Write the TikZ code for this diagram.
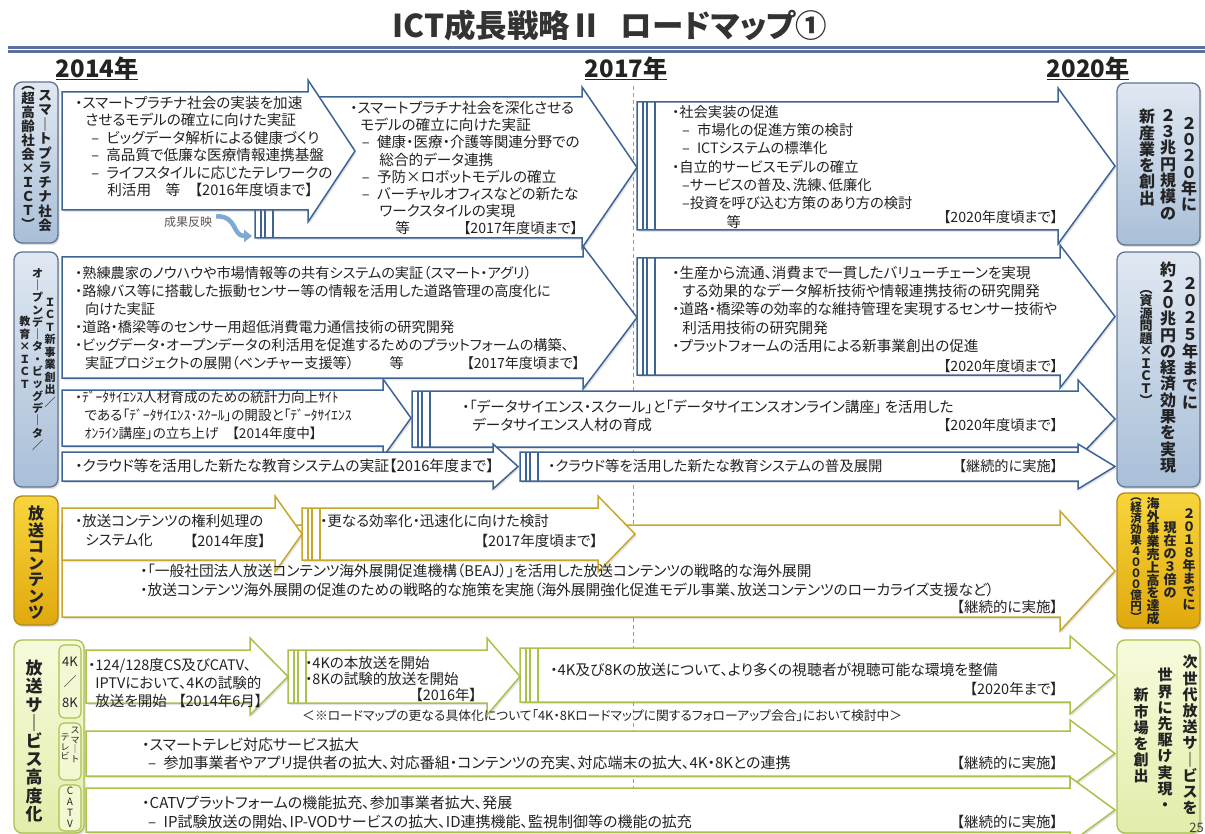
\documentclass[tikz,border=0pt]{standalone}
\usepackage{fontspec}
\setmainfont{Noto Sans CJK JP}[RawFeature=+palt]
\newfontfamily\vfont{Noto Sans CJK JP}
\usetikzlibrary{shadows,arrows.meta}
\definecolor{bl}{HTML}{3C6494}
\definecolor{gd}{HTML}{C9A62C}
\definecolor{gn}{HTML}{A9C24A}
\definecolor{tx}{HTML}{232323}
\definecolor{labbd}{HTML}{5E7596}
\definecolor{labtop}{HTML}{E0E8F2}
\definecolor{labbot}{HTML}{A9BFD8}
\definecolor{goldtop}{HTML}{F8D53C}
\definecolor{goldbot}{HTML}{E0A90E}
\definecolor{goldbd}{HTML}{B08A1A}
\definecolor{greentop}{HTML}{F8FBDC}
\definecolor{greenbot}{HTML}{E2EDAA}
\definecolor{greenbd}{HTML}{A8C050}
\definecolor{subfill}{HTML}{F4F8D2}
\definecolor{fbarrow}{HTML}{7EA9D1}
\definecolor{dashc}{HTML}{9A9A9A}
\definecolor{rulec}{HTML}{5D6F9E}
\newcommand\setfs[2]{\fontsize{#1}{#2}\selectfont}
\newcommand\blkarrow[7]{\filldraw[#1] (#2,#5) -- (#3,#5) -- (#3,{#5-#7}) -- (#4,{(#5+#6)/2}) -- (#3,{#6+#7}) -- (#3,#6) -- (#2,#6) -- cycle;}
\newcommand\dbars[4]{\draw[#1] ({#2+6},#3) -- ({#2+6},#4) ({#2+10},#3) -- ({#2+10},#4) ({#2+18},#3) -- ({#2+18},#4);}
\begin{document}
\begin{tikzpicture}[x=1pt,y=-1pt,text=tx,
 ab/.style={draw=bl, line width=1.5pt, fill=white, line join=miter, drop shadow={opacity=0.22, shadow xshift=1.5pt, shadow yshift=-2pt}},
 ag/.style={ab, draw=gd},
 ar/.style={ab, draw=gn},
 bbar/.style={draw=bl, line width=1.1pt},
 gbar/.style={draw=gd, line width=1.1pt},
 rbar/.style={draw=gn, line width=1.1pt},
 blk/.style={anchor=north west, align=left, inner sep=0pt},
 dtag/.style={anchor=east, inner sep=0pt},
 sline/.style={anchor=west, inner sep=0pt},
 vcol/.style={anchor=north, align=center, inner sep=0pt},
 lblue/.style={rounded corners=8pt, draw=labbd, line width=1.3pt, top color=labtop, bottom color=labbot, drop shadow={opacity=0.25, shadow xshift=1.5pt, shadow yshift=-2pt}},
 lgold/.style={lblue, draw=goldbd, top color=goldtop, bottom color=goldbot},
 lgreen/.style={lblue, draw=greenbd, top color=greentop, bottom color=greenbot},
 lsub/.style={rounded corners=5pt, draw=greenbd, line width=1.1pt, fill=subfill},
 year/.style={font=\setfs{24}{24}\bfseries, inner sep=0pt}]
\useasboundingbox (0,0) rectangle (1205,834);
\fill[white] (0,0) rectangle (1205,834);
% title and rule
\node[font=\setfs{31.5}{31.5}\bfseries, text=black!80] (title) at (610,26) {ICT成長戦略Ⅱ\hspace{0.6em}ロードマップ①};
\fill[rulec] (8,46) rectangle (1205,53);
\draw[white, line width=1.2pt] (8,49.5) -- (1205,49.5);
% years
\node[year] (y14) at (97,68) {2014年};
\node[year] (y17) at (626,68) {2017年};
\node[year] (y20) at (1088,68) {2020年};
\draw[line width=1.4pt, tx] (y14.south west) -- (y14.south east);
\draw[line width=1.4pt, tx] (y17.south west) -- (y17.south east);
\draw[line width=1.4pt, tx] (y20.south west) -- (y20.south east);
% dashed 2017 line
\draw[dashc, line width=0.7pt, dash pattern=on 4pt off 3pt] (633,86) -- (633,834);

% ---------- row 1 ----------
\blkarrow{ab}{255}{582}{637}{97}{238}{10}
\dbars{bbar}{255}{97}{238}
\blkarrow{ab}{62}{308}{355}{92}{210}{12}
\blkarrow{ab}{637}{1058}{1115}{102}{230}{14}
\dbars{bbar}{637}{102}{230}
% ---------- row 2 ----------
\blkarrow{ab}{412}{1078}{1115}{391}{447}{11}
\dbars{bbar}{412}{391}{447}
\blkarrow{ab}{62}{383}{411}{390}{446}{11}
\blkarrow{ab}{520}{1078}{1115}{452}{481}{8}
\dbars{bbar}{520}{452}{481}
\blkarrow{ab}{62}{493}{518}{452}{481}{8}
\blkarrow{ab}{637}{1060}{1115}{258}{375}{13}
\dbars{bbar}{637}{258}{375}
\blkarrow{ab}{62}{583}{637}{257}{378}{11}
% ---------- row 3 ----------
\blkarrow{ag}{62}{1060}{1115}{525}{617}{14}
\blkarrow{ag}{302}{598}{635}{508}{560}{12}
\dbars{gbar}{302}{508}{560}
\blkarrow{ag}{62}{275}{302}{508}{560}{12}
% ---------- row 4 ----------
\blkarrow{ar}{520}{1070}{1115}{648}{702}{12}
\dbars{rbar}{520}{648}{702}
\blkarrow{ar}{288}{487}{520}{650}{703}{12}
\dbars{rbar}{288}{650}{703}
\blkarrow{ar}{86}{250}{288}{650}{703}{12}
\blkarrow{ar}{86}{1070}{1115}{731}{776}{11}
\blkarrow{ar}{86}{1070}{1115}{788}{832}{11}

% ---------- row 1 texts ----------
\node[blk, font=\setfs{14.6}{17.4}] (t1a) at (75,96) {・スマートプラチナ社会の実装を加速\\
\hspace*{0.7em}させるモデルの確立に向けた実証\\
\hspace*{1.1em}–\hspace{0.5em}ビッグデータ解析による健康づくり\\
\hspace*{1.1em}–\hspace{0.5em}高品質で低廉な医療情報連携基盤\\
\hspace*{1.1em}–\hspace{0.5em}ライフスタイルに応じたテレワークの\\
\hspace*{2.2em}利活用　等　【2016年度頃まで】};
\node[blk, font=\setfs{14.6}{17.2}] (t1b) at (350,101) {・スマートプラチナ社会を深化させる\\
\hspace*{0.7em}モデルの確立に向けた実証\\
\hspace*{0.8em}–\hspace{0.5em}健康・医療・介護等関連分野での\\
\hspace*{2em}総合的データ連携\\
\hspace*{0.8em}–\hspace{0.5em}予防×ロボットモデルの確立\\
\hspace*{0.8em}–\hspace{0.5em}バーチャルオフィスなどの新たな\\
\hspace*{2em}ワークスタイルの実現\\
\hspace*{3.1em}等};
\node[dtag, font=\setfs{14.2}{14.2}] (g1b) at (578,228) {【2017年度頃まで】};
\node[blk, font=\setfs{14.3}{18.3}] (t1c) at (672,105) {・社会実装の促進\\
\hspace*{0.7em}–\hspace{0.5em}市場化の促進方策の検討\\
\hspace*{0.7em}–\hspace{0.5em}ICTシステムの標準化\\
・自立的サービスモデルの確立\\
\hspace*{0.7em}–サービスの普及、洗練、低廉化\\
\hspace*{0.7em}–投資を呼び込む方策のあり方の検討\\
\hspace*{3.8em}等};
\node[dtag, font=\setfs{14.2}{14.2}] (g1c) at (1058,217) {【2020年度頃まで】};
\node[font=\setfs{12}{12}, text=black!65, inner sep=0pt] (seika) at (188,222) {成果反映};
\coordinate (fbend) at (252,236);
\draw[fbarrow, line width=4.5pt, -{Triangle[length=8pt,width=12pt]}] ([xshift=4pt]seika.north east) .. controls (238,216) and (232,236) .. (fbend);

% ---------- row 2 texts ----------
\node[blk, font=\setfs{14.2}{18}] (t2a) at (75,266.2) {・熟練農家のノウハウや市場情報等の共有システムの実証（スマート・アグリ）\\
・路線バス等に搭載した振動センサー等の情報を活用した道路管理の高度化に\\
\hspace*{0.7em}向けた実証\\
・道路・橋梁等のセンサー用超低消費電力通信技術の研究開発\\
・ビッグデータ・オープンデータの利活用を促進するためのプラットフォームの構築、\\
\hspace*{0.7em}実証プロジェクトの展開（ベンチャー支援等）\hspace{2.5em}等};
\node[dtag, font=\setfs{14}{14}] (g2a) at (580,363) {【2017年度頃まで】};
\node[blk, font=\setfs{14.6}{18.2}] (t2b) at (672,266) {・生産から流通、消費まで一貫したバリューチェーンを実現\\
\hspace*{0.7em}する効果的なデータ解析技術や情報連携技術の研究開発\\
・道路・橋梁等の効率的な維持管理を実現するセンサー技術や\\
\hspace*{0.7em}利活用技術の研究開発\\
・プラットフォームの活用による新事業創出の促進};
\node[dtag, font=\setfs{14.2}{14.2}] (g2b) at (1058,366) {【2020年度頃まで】};
\node[blk, font=\setfs{13.6}{18}] (t2c) at (75,390.5) {・ﾃﾞｰﾀｻｲｴﾝｽ人材育成のための統計力向上ｻｲﾄ\\
\hspace*{0.7em}である「ﾃﾞｰﾀｻｲｴﾝｽ･ｽｸｰﾙ」の開設と「ﾃﾞｰﾀｻｲｴﾝｽ\\
\hspace*{0.7em}ｵﾝﾗｲﾝ講座」の立ち上げ　【2014年度中】};
\node[blk, font=\setfs{14.6}{18}] (t2d) at (462,400) {・「データサイエンス・スクール」と「データサイエンスオンライン講座」 を活用した\\
\hspace*{0.7em}データサイエンス人材の育成};
\node[dtag, font=\setfs{14.2}{14.2}] (g2d) at (1058,425) {【2020年度頃まで】};
\node[sline, font=\setfs{14.8}{14.8}] (t2e) at (75,466) {・クラウド等を活用した新たな教育システムの実証【2016年度まで】};
\node[sline, font=\setfs{14.4}{14.4}] (t2f) at (548,466) {・クラウド等を活用した新たな教育システムの普及展開};
\node[dtag, font=\setfs{14.2}{14.2}] (g2f) at (1058,466) {【継続的に実施】};

% ---------- row 3 texts ----------
\node[blk, font=\setfs{14.5}{19}] (t3a) at (75,514) {・放送コンテンツの権利処理の\\
\hspace*{0.7em}システム化};
\node[dtag, font=\setfs{14.5}{14.5}] (g3a) at (266,541) {【2014年度】};
\node[sline, font=\setfs{14.5}{14.5}] (t3b) at (320,521) {・更なる効率化・迅速化に向けた検討};
\node[dtag, font=\setfs{14.5}{14.5}] (g3b) at (598,541) {【2017年度頃まで】};
\node[blk, font=\setfs{14.7}{19}] (t3c) at (140,564) {・「一般社団法人放送コンテンツ海外展開促進機構（BEAJ）」を活用した放送コンテンツの戦略的な海外展開\\
・放送コンテンツ海外展開の促進のための戦略的な施策を実施（海外展開強化促進モデル事業、放送コンテンツのローカライズ支援など）};
\node[dtag, font=\setfs{14.5}{14.5}] (g3c) at (1058,607) {【継続的に実施】};

% ---------- row 4 texts ----------
\node[blk, font=\setfs{14.5}{18}] (t4a) at (88,658) {・124/128度CS及びCATV、\\
\hspace*{0.5em}IPTVにおいて、4Kの試験的\\
\hspace*{0.5em}放送を開始\hspace{0.8em}【2014年6月】};
\node[blk, font=\setfs{14.5}{16.5}] (t4b) at (305,656) {・4Kの本放送を開始\\
・8Kの試験的放送を開始};
\node[dtag, font=\setfs{14.5}{14.5}] (g4b) at (477,695) {【2016年】};
\node[sline, font=\setfs{14.8}{14.8}] (t4c) at (550,670) {・4K及び8Kの放送について、より多くの視聴者が視聴可能な環境を整備};
\node[dtag, font=\setfs{14.5}{14.5}] (g4c) at (1058,689) {【2020年まで】};
\node[sline, font=\setfs{12.8}{12.8}] (note) at (302,716) {＜※ロードマップの更なる具体化について「4K・8Kロードマップに関するフォローアップ会合」において検討中＞};
\node[blk, font=\setfs{15}{18}] (t4d) at (142,737.8) {・スマートテレビ対応サービス拡大\\
\hspace*{0.4em}–\hspace{0.5em}参加事業者やアプリ提供者の拡大、対応番組・コンテンツの充実、対応端末の拡大、4K・8Kとの連携};
\node[dtag, font=\setfs{14.5}{14.5}] (g4d) at (1058,763) {【継続的に実施】};
\node[blk, font=\setfs{15}{19}] (t4e) at (142,795.8) {・CATVプラットフォームの機能拡充、参加事業者拡大、発展\\
\hspace*{0.4em}–\hspace{0.5em}IP試験放送の開始、IP-VODサービスの拡大、ID連携機能、監視制御等の機能の拡充};
\node[dtag, font=\setfs{14.5}{14.5}] (g4e) at (1058,822) {【継続的に実施】};

% ---------- left labels ----------
\draw[lblue] (14,82) rectangle (58,243);
\node[vcol, font=\vfont\setfs{13.5}{14.5}\bfseries] (l1r) at (45,90) {ス\\マ\\｜\\ト\\プ\\ラ\\チ\\ナ\\社\\会};
\node[vcol, font=\vfont\setfs{13.5}{14}\bfseries] (l1l) at (28,86) {︵\\超\\高\\齢\\社\\会\\×\\Ｉ\\Ｃ\\Ｔ\\︶};
\draw[lblue] (14,252) rectangle (58,487);
\node[vcol, font=\vfont\setfs{11}{12.5}\bfseries] (l2r) at (50,298) {Ｉ\\Ｃ\\Ｔ\\新\\事\\業\\創\\出\\／};
\node[vcol, font=\vfont\setfs{11}{12.3}\bfseries] (l2m) at (37.5,268) {オ\\｜\\プ\\ン\\デ\\｜\\タ\\・\\ビ\\ッ\\グ\\デ\\｜\\タ\\／};
\node[vcol, font=\vfont\setfs{11}{12.5}\bfseries] (l2l) at (25,316) {教\\育\\×\\Ｉ\\Ｃ\\Ｔ};
\draw[lgold] (14,496) rectangle (58,625);
\node[vcol, font=\vfont\setfs{16}{16.5}\bfseries] (l3) at (36,506) {放\\送\\コ\\ン\\テ\\ン\\ツ};
\draw[lgreen] (14,640) rectangle (84,833);
\node[vcol, font=\vfont\setfs{17}{18.2}\bfseries] (l4) at (34,660) {放\\送\\サ\\｜\\ビ\\ス\\高\\度\\化};
\draw[lsub] (59,645) rectangle (81,718);
\draw[lsub] (59,723) rectangle (81,780);
\draw[lsub] (59,785) rectangle (81,831);
\node[font=\setfs{13}{13}, inner sep=0pt] (s4k) at (70,662) {4K};
\node[font=\setfs{13}{13}, inner sep=0pt] (s4sl) at (70,682) {／};
\node[font=\setfs{13}{13}, inner sep=0pt] (s8k) at (70,703) {8K};
\node[vcol, font=\vfont\setfs{9}{9.5}] (sstr) at (75,727) {ス\\マ\\｜\\ト};
\node[vcol, font=\vfont\setfs{9}{9.5}] (sstl) at (65,734) {テ\\レ\\ビ};
\node[vcol, font=\vfont\setfs{10}{10.8}] (scatv) at (70,787) {C\\A\\T\\V};

% ---------- right boxes ----------
\draw[lblue] (1117,83) rectangle (1200,245);
\node[vcol, font=\vfont\setfs{16}{16.3}\bfseries] (b1r) at (1189,117) {２\\０\\２\\０\\年\\に};
\node[vcol, font=\vfont\setfs{16}{16.3}\bfseries] (b1m) at (1168,109) {２\\３\\兆\\円\\規\\模\\の};
\node[vcol, font=\vfont\setfs{16}{16.3}\bfseries] (b1l) at (1147,109) {新\\産\\業\\を\\創\\出};
\draw[lblue] (1117,252) rectangle (1200,487);
\node[vcol, font=\vfont\setfs{16}{17}\bfseries] (b2r) at (1190,277) {２\\０\\２\\５\\年\\ま\\で\\に};
\node[vcol, font=\vfont\setfs{16}{16.3}\bfseries] (b2m) at (1168,262) {約\\２\\０\\兆\\円\\の\\経\\済\\効\\果\\を\\実\\現};
\node[vcol, font=\vfont\setfs{13}{12.5}\bfseries] (b2l) at (1146,290) {︵\\資\\源\\問\\題\\×\\Ｉ\\Ｃ\\Ｔ\\︶};
\draw[lgold] (1117,493) rectangle (1200,628);
\node[vcol, font=\vfont\setfs{13}{13}\bfseries] (b3a) at (1189,508) {２\\０\\１\\８\\年\\ま\\で\\に};
\node[vcol, font=\vfont\setfs{13}{13}\bfseries] (b3b) at (1170,522) {現\\在\\の\\３\\倍\\の};
\node[vcol, font=\vfont\setfs{13}{12.8}\bfseries] (b3c) at (1153,497) {海\\外\\事\\業\\売\\上\\高\\を\\達\\成};
\node[vcol, font=\vfont\setfs{11.5}{11}\bfseries] (b3d) at (1136,498) {︵\\経\\済\\効\\果\\４\\０\\０\\０\\億\\円\\︶};
\draw[lgreen] (1117,640) rectangle (1200,833);
\node[vcol, font=\vfont\setfs{15}{16.2}\bfseries] (b4r) at (1190,655) {次\\世\\代\\放\\送\\サ\\｜\\ビ\\ス\\を};
\node[vcol, font=\vfont\setfs{15}{16.2}\bfseries] (b4m) at (1165,668) {世\\界\\に\\先\\駆\\け\\実\\現\\・};
\node[vcol, font=\vfont\setfs{15}{16.2}\bfseries] (b4l) at (1141,688) {新\\市\\場\\を\\創\\出};
\node[anchor=south east, font=\setfs{13}{13}, inner sep=1pt, text=black!75] (pg) at (1205,834) {25};
\end{tikzpicture}
\end{document}
